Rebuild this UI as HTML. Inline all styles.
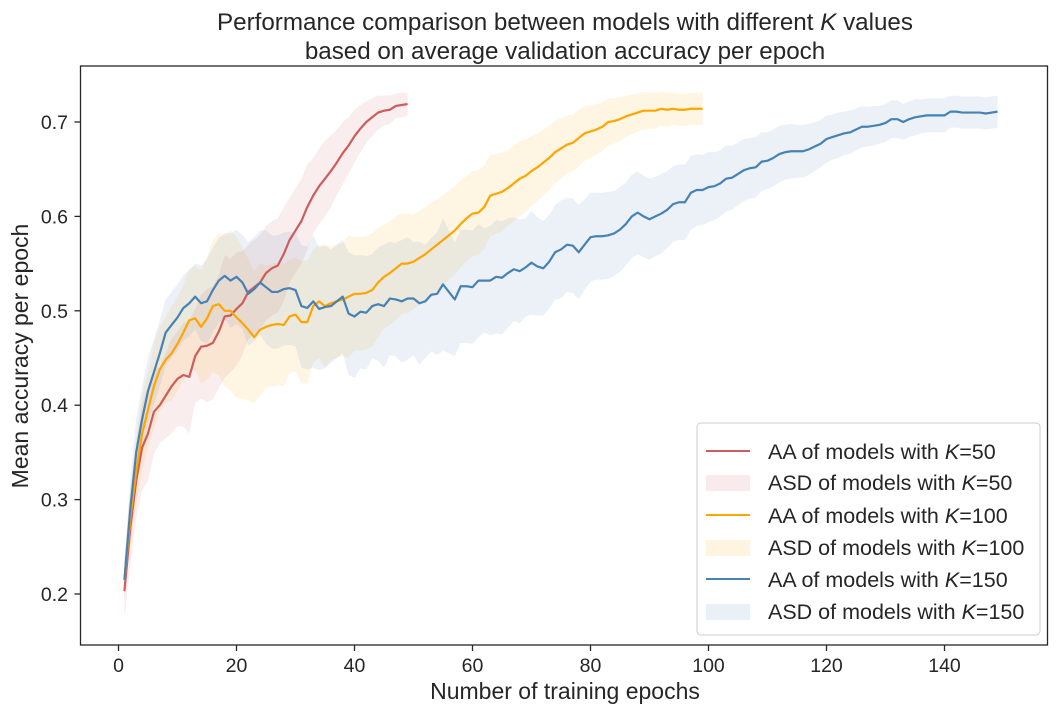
<!DOCTYPE html>
<html><head><meta charset="utf-8"><style>
body{margin:0;background:#fff}
svg text{font-family:"Liberation Sans",Arial,sans-serif;fill:#262626}
</style></head><body>
<svg id="chart" width="1059" height="714" xmlns="http://www.w3.org/2000/svg">
<text x="565" y="30" font-size="24.2" text-anchor="middle">Performance comparison between models with different <tspan font-style="italic">K</tspan> values</text>
<text x="565" y="59" font-size="24.2" text-anchor="middle">based on average validation accuracy per epoch</text>
<g id="plot"></g>
<rect x="80.5" y="66" width="967" height="579" fill="none" stroke="#262626" stroke-width="1.3"/>
<g id="axes"></g>
<text x="565" y="699" font-size="23" text-anchor="middle">Number of training epochs</text>
<text transform="translate(28,356) rotate(-90)" font-size="23" text-anchor="middle">Mean accuracy per epoch</text>
<g>
<rect x="697" y="423" width="343" height="212" rx="4" fill="#fff" fill-opacity="0.85" stroke="#ccc"/>
<line x1="706" y1="451" x2="750" y2="451" stroke="#cd5c5c" stroke-width="2"/>
<text x="768" y="459" font-size="21.5">AA of models with <tspan font-style="italic">K</tspan>=50</text>
<rect x="706" y="475" width="44" height="16" fill="#cd5c5c" fill-opacity="0.12"/>
<text x="768" y="490" font-size="21.5">ASD of models with <tspan font-style="italic">K</tspan>=50</text>
<line x1="706" y1="515" x2="750" y2="515" stroke="#ffa500" stroke-width="2"/>
<text x="768" y="523" font-size="21.5">AA of models with <tspan font-style="italic">K</tspan>=100</text>
<rect x="706" y="540" width="44" height="16" fill="#ffa500" fill-opacity="0.12"/>
<text x="768" y="555" font-size="21.5">ASD of models with <tspan font-style="italic">K</tspan>=100</text>
<line x1="706" y1="579" x2="750" y2="579" stroke="#4682b4" stroke-width="2"/>
<text x="768" y="587" font-size="21.5">AA of models with <tspan font-style="italic">K</tspan>=150</text>
<rect x="706" y="604" width="44" height="16" fill="#4682b4" fill-opacity="0.12"/>
<text x="768" y="619" font-size="21.5">ASD of models with <tspan font-style="italic">K</tspan>=150</text>
</g>
</svg>
<script>
const xTicks=[0,20,40,60,80,100,120,140];
const yTicks=[0.2,0.3,0.4,0.5,0.6,0.7];
const mean50=[0.203,0.27,0.32,0.355,0.37,0.393,0.40,0.41,0.42,0.428,0.432,0.43,0.452,0.462,0.463,0.466,0.478,0.494,0.495,0.502,0.508,0.52,0.525,0.53,0.54,0.545,0.548,0.56,0.575,0.585,0.595,0.61,0.622,0.632,0.64,0.648,0.657,0.667,0.675,0.685,0.693,0.70,0.705,0.71,0.712,0.713,0.717,0.718,0.719];
const std50=[0.03,0.04,0.04,0.045,0.05,0.045,0.04,0.045,0.05,0.05,0.055,0.06,0.05,0.055,0.06,0.06,0.06,0.065,0.06,0.06,0.055,0.05,0.05,0.05,0.05,0.05,0.05,0.05,0.045,0.045,0.045,0.045,0.04,0.04,0.04,0.038,0.035,0.033,0.03,0.028,0.025,0.022,0.02,0.018,0.016,0.015,0.013,0.013,0.012];
const mean100=[0.215,0.28,0.33,0.37,0.395,0.42,0.438,0.448,0.455,0.465,0.477,0.49,0.492,0.483,0.492,0.505,0.507,0.5,0.5,0.493,0.487,0.48,0.472,0.48,0.483,0.485,0.486,0.485,0.494,0.496,0.488,0.488,0.505,0.51,0.505,0.508,0.51,0.512,0.515,0.518,0.518,0.519,0.522,0.53,0.536,0.54,0.545,0.55,0.55,0.552,0.556,0.56,0.565,0.57,0.575,0.58,0.585,0.592,0.598,0.603,0.604,0.61,0.622,0.624,0.626,0.63,0.635,0.64,0.643,0.648,0.652,0.657,0.662,0.668,0.672,0.676,0.678,0.683,0.688,0.69,0.692,0.695,0.7,0.701,0.703,0.706,0.708,0.71,0.712,0.712,0.712,0.714,0.713,0.714,0.713,0.713,0.714,0.714,0.714];
const std100=[0.02,0.03,0.035,0.04,0.04,0.045,0.045,0.045,0.05,0.05,0.05,0.055,0.055,0.06,0.065,0.07,0.075,0.08,0.085,0.085,0.08,0.075,0.07,0.07,0.065,0.065,0.065,0.065,0.06,0.06,0.065,0.065,0.06,0.06,0.065,0.06,0.06,0.06,0.065,0.06,0.06,0.06,0.06,0.058,0.055,0.055,0.055,0.053,0.053,0.05,0.05,0.05,0.05,0.048,0.048,0.047,0.047,0.046,0.045,0.045,0.045,0.044,0.043,0.042,0.042,0.04,0.04,0.04,0.038,0.037,0.036,0.035,0.034,0.033,0.032,0.031,0.03,0.03,0.029,0.028,0.027,0.026,0.025,0.024,0.023,0.022,0.021,0.02,0.02,0.019,0.019,0.018,0.018,0.017,0.017,0.017,0.017,0.017,0.017];
const mean150=[0.215,0.29,0.35,0.385,0.415,0.435,0.455,0.477,0.485,0.493,0.503,0.508,0.515,0.508,0.51,0.522,0.532,0.537,0.532,0.536,0.53,0.518,0.523,0.53,0.525,0.52,0.52,0.523,0.524,0.522,0.505,0.503,0.51,0.502,0.504,0.505,0.51,0.515,0.497,0.494,0.499,0.498,0.505,0.507,0.505,0.513,0.512,0.51,0.513,0.513,0.508,0.51,0.517,0.518,0.528,0.52,0.512,0.526,0.526,0.525,0.532,0.532,0.532,0.536,0.535,0.54,0.544,0.542,0.546,0.551,0.547,0.545,0.552,0.562,0.565,0.57,0.569,0.562,0.57,0.578,0.579,0.579,0.58,0.582,0.586,0.592,0.6,0.604,0.6,0.597,0.6,0.603,0.607,0.613,0.615,0.615,0.625,0.628,0.628,0.631,0.632,0.635,0.64,0.641,0.645,0.649,0.651,0.652,0.658,0.659,0.662,0.666,0.668,0.669,0.669,0.669,0.671,0.674,0.677,0.682,0.684,0.686,0.688,0.689,0.692,0.695,0.695,0.696,0.697,0.699,0.703,0.703,0.70,0.703,0.705,0.706,0.707,0.707,0.707,0.707,0.711,0.711,0.71,0.71,0.71,0.71,0.709,0.71,0.711];
const std150=[0.02,0.03,0.035,0.035,0.035,0.035,0.035,0.035,0.035,0.035,0.035,0.035,0.035,0.04,0.045,0.045,0.045,0.045,0.05,0.05,0.05,0.055,0.055,0.055,0.06,0.06,0.06,0.06,0.06,0.06,0.065,0.065,0.07,0.065,0.065,0.06,0.06,0.06,0.065,0.065,0.06,0.06,0.055,0.06,0.065,0.06,0.06,0.065,0.065,0.06,0.065,0.06,0.06,0.065,0.07,0.065,0.06,0.06,0.06,0.06,0.06,0.055,0.058,0.06,0.06,0.058,0.055,0.055,0.052,0.055,0.052,0.05,0.05,0.05,0.052,0.05,0.05,0.05,0.048,0.047,0.046,0.046,0.046,0.045,0.045,0.044,0.044,0.044,0.043,0.043,0.042,0.042,0.041,0.04,0.04,0.04,0.039,0.038,0.037,0.037,0.036,0.035,0.035,0.034,0.033,0.033,0.032,0.032,0.031,0.03,0.03,0.03,0.029,0.029,0.028,0.028,0.027,0.026,0.025,0.025,0.024,0.024,0.023,0.023,0.022,0.022,0.021,0.021,0.02,0.02,0.02,0.02,0.019,0.019,0.019,0.018,0.018,0.018,0.018,0.018,0.017,0.017,0.017,0.017,0.017,0.017,0.017,0.017,0.017];
const NS='http://www.w3.org/2000/svg';
const xS=e=>118.5+e*5.9, yS=v=>594-(v-0.2)*944;
const plot=document.getElementById('plot'), axes=document.getElementById('axes');
function mk(t,a,p){const el=document.createElementNS(NS,t);for(const k in a)el.setAttribute(k,a[k]);p.appendChild(el);return el;}
function series(m,s,color,k){
  const up=m.map((v,i)=>xS(i+1)+','+yS(v+s[i]));
  const lo=m.map((v,i)=>xS(i+1)+','+yS(v-s[i])).reverse();
  const band=mk('polygon',{points:up.concat(lo).join(' '),fill:color,'fill-opacity':0.11,stroke:'none'},plot);
  
  
  return ()=>{const ln=mk('polyline',{points:m.map((v,i)=>xS(i+1)+','+yS(v)).join(' '),fill:'none',stroke:color,'stroke-width':2.2,'stroke-linejoin':'round'},plot);
  
  };
}
const l1=series(mean50,std50,'#cd5c5c',50),l2=series(mean100,std100,'#ffa500',100),l3=series(mean150,std150,'#4682b4',150);
l1();l2();l3();
xTicks.forEach(t=>{const x=xS(t);
  const tk=mk('line',{x1:x,y1:645,x2:x,y2:651,stroke:'#262626','stroke-width':1.3},axes);
  
  
  const tx=mk('text',{x:x,y:672,'font-size':19.5,'text-anchor':'middle'},axes);tx.textContent=t;
  
  });
yTicks.forEach(t=>{const y=yS(t);
  const tk=mk('line',{x1:74.5,y1:y,x2:80.5,y2:y,stroke:'#262626','stroke-width':1.3},axes);
  
  
  const tx=mk('text',{x:68,y:y+7,'font-size':19.5,'text-anchor':'end'},axes);tx.textContent=t.toFixed(1);
  
  });
</script>
</body></html>
